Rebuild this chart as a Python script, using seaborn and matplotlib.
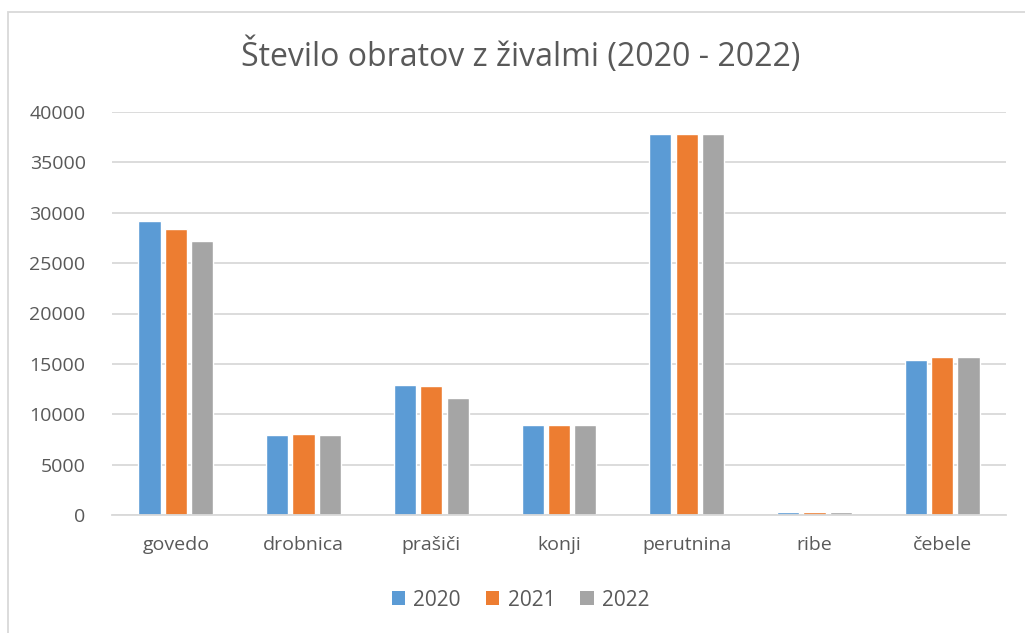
import matplotlib
matplotlib.use("Agg")
import matplotlib.pyplot as plt
import seaborn as sns
import pandas as pd
from matplotlib.patches import Rectangle, Patch

categories = ["govedo", "drobnica", "prašiči", "konji", "perutnina", "ribe", "čebele"]
years = ["2020", "2021", "2022"]
v2020 = [29200, 7970, 12920, 8910, 37830, 250, 15400]
v2021 = [28390, 8040, 12790, 8950, 37830, 250, 15730]
v2022 = [27230, 7970, 11630, 8910, 37830, 250, 15730]
yticks = [0, 5000, 10000, 15000, 20000, 25000, 30000, 35000, 40000]
colors = ["#5B9BD5", "#ED7D31", "#A5A5A5"]

rows = []
for y, vals in zip(years, [v2020, v2021, v2022]):
    for c, v in zip(categories, vals):
        rows.append({"cat": c, "year": y, "value": v})
df = pd.DataFrame(rows)

sns.set_theme(style="white")
plt.rcParams["font.family"] = ["Open Sans", "DejaVu Sans"]

W, H = 1025, 633
fig = plt.figure(figsize=(W / 100, H / 100), dpi=100)
ax = fig.add_axes([112 / W, 1 - 515 / H, (1006 - 112) / W, (515 - 112) / H])

sns.barplot(data=df, x="cat", y="value", hue="year", order=categories,
            hue_order=years, palette=colors, width=0.62, gap=0.16,
            saturation=1, ax=ax, legend=False)

ax.set_ylim(0, 40000)
ax.set_yticks(yticks)
ax.set_yticklabels([str(t) for t in yticks])
ax.set_xlim(-0.5, len(categories) - 0.5)
ax.yaxis.grid(True, color="#D9D9D9", linewidth=1.3)
ax.set_axisbelow(True)
for s in ["top", "right", "left"]:
    ax.spines[s].set_visible(False)
ax.spines["bottom"].set_color("#D9D9D9")
ax.spines["bottom"].set_linewidth(1.3)
ax.tick_params(axis="both", length=0, labelsize=14, colors="#595959")
ax.tick_params(axis="x", pad=15)
ax.tick_params(axis="y", pad=19)
ax.set_xlabel("")
ax.set_ylabel("")

fig.text(0.508, 1 - 56 / H, "Število obratov z živalmi (2020 - 2022)",
         ha="center", va="center", fontsize=23, color="#595959",
         fontweight="normal")

handles = [Patch(facecolor=c, edgecolor="none") for c in colors]
fig.legend(handles, years, loc="center", bbox_to_anchor=(0.508, 1 - 600 / H),
           ncol=3, frameon=False, fontsize=15, handlelength=0.65,
           handleheight=0.65, columnspacing=1.2, handletextpad=0.4,
           labelcolor="#595959")

fig.patches.append(Rectangle((8 / W, -0.01), 1.05, 1 - 12 / H + 0.01,
                             transform=fig.transFigure, fill=False,
                             edgecolor="#D9D9D9", linewidth=1.3))

fig.savefig("out.png", dpi=100)
